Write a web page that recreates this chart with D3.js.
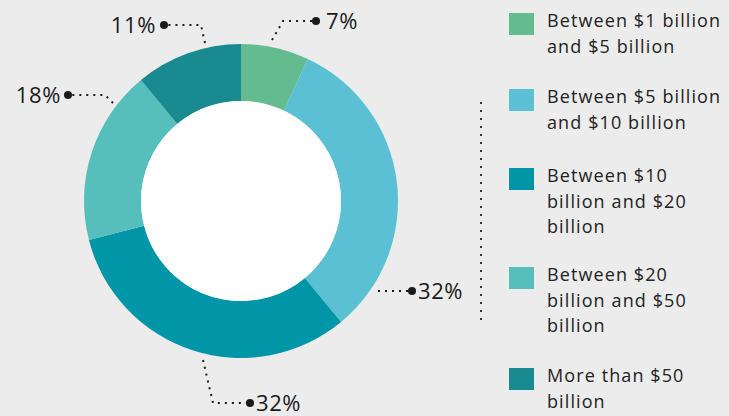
<!DOCTYPE html>
<html><head><meta charset="utf-8">
<script src="https://cdn.jsdelivr.net/npm/d3@7/dist/d3.min.js"></script>
<style>
html,body{margin:0;padding:0;background:#ececec;}
svg{display:block;font-family:"Open Sans",Lato,sans-serif;}
</style></head>
<body><svg id="c" width="729" height="416"></svg>
<script>
const categories = ["Between $1 billion and $5 billion","Between $5 billion and $10 billion","Between $10 billion and $20 billion","Between $20 billion and $50 billion","More than $50 billion"];
const legendLines = [["Between $1 billion","and $5 billion"],["Between $5 billion","and $10 billion"],["Between $10","billion and $20","billion"],["Between $20","billion and $50","billion"],["More than $50","billion"]];
const values = [7, 32, 32, 18, 11];
const labels = ["7%","32%","32%","18%","11%"];
const colors = ["#63bb8f","#5bc0d3","#0096a8","#57bfbb","#188a90"];

const svg = d3.select("#c");
const cx = 241, cy = 201, R = 157, r0 = 100;
const g = svg.append("g").attr("transform",`translate(${cx},${cy})`);
const pie = d3.pie().sort(null).value(d=>d)(values);
const arc = d3.arc().innerRadius(r0).outerRadius(R);
g.selectAll("path.s").data(pie).join("path").attr("class","s")
  .attr("d",arc).attr("fill",(d,i)=>colors[i]);
g.append("circle").attr("r",r0).attr("fill","#fff");

// leader layout (absolute pixel polylines), ends at dot
const leaders = [
  {pts:[[272,40],[283,21],[316,21]], anchor:"start", dx:10, dy:8},
  {pts:[[378,291],[412,291]], anchor:"start", dx:6, dy:8},
  {pts:[[203,360],[213,403],[250,403]], anchor:"start", dx:6, dy:8},
  {pts:[[113,103],[105,95],[68,95]], anchor:"end", dx:-7, dy:8},
  {pts:[[205,43],[201,25],[164,25]], anchor:"end", dx:-8, dy:8}
];
const line = d3.line();
leaders.forEach((L,i)=>{
  svg.append("path").attr("d",line(L.pts)).attr("fill","none")
    .attr("stroke","#1a1a1a").attr("stroke-width",2).attr("stroke-dasharray","2,5");
  const e = L.pts[L.pts.length-1];
  svg.append("circle").attr("cx",e[0]).attr("cy",e[1]).attr("r",4).attr("fill","#1a1a1a");
  svg.append("text").attr("x",e[0]+L.dx).attr("y",e[1]+L.dy).attr("text-anchor",L.anchor)
    .attr("font-size",22).attr("letter-spacing","0.6px").attr("fill","#1a1a1a").text(labels[i]);
});

// vertical dotted separator
svg.append("line").attr("x1",481).attr("x2",481).attr("y1",102).attr("y2",322)
  .attr("stroke","#333").attr("stroke-width",2).attr("stroke-dasharray","2,6");

// legend
const legTops = [13, 89, 168, 267, 368];
const lg = svg.append("g");
categories.forEach((c,i)=>{
  const y = legTops[i];
  lg.append("rect").attr("x",509).attr("y",y).attr("width",25).attr("height",22).attr("fill",colors[i]);
  const t = lg.append("text").attr("x",547).attr("y",y+14).attr("font-size",18)
    .attr("letter-spacing","1.1px").attr("fill","#222");
  legendLines[i].forEach((s,j)=>{
    t.append("tspan").attr("x",547).attr("dy",j===0?0:25.5).text(s);
  });
});
</script></body></html>
